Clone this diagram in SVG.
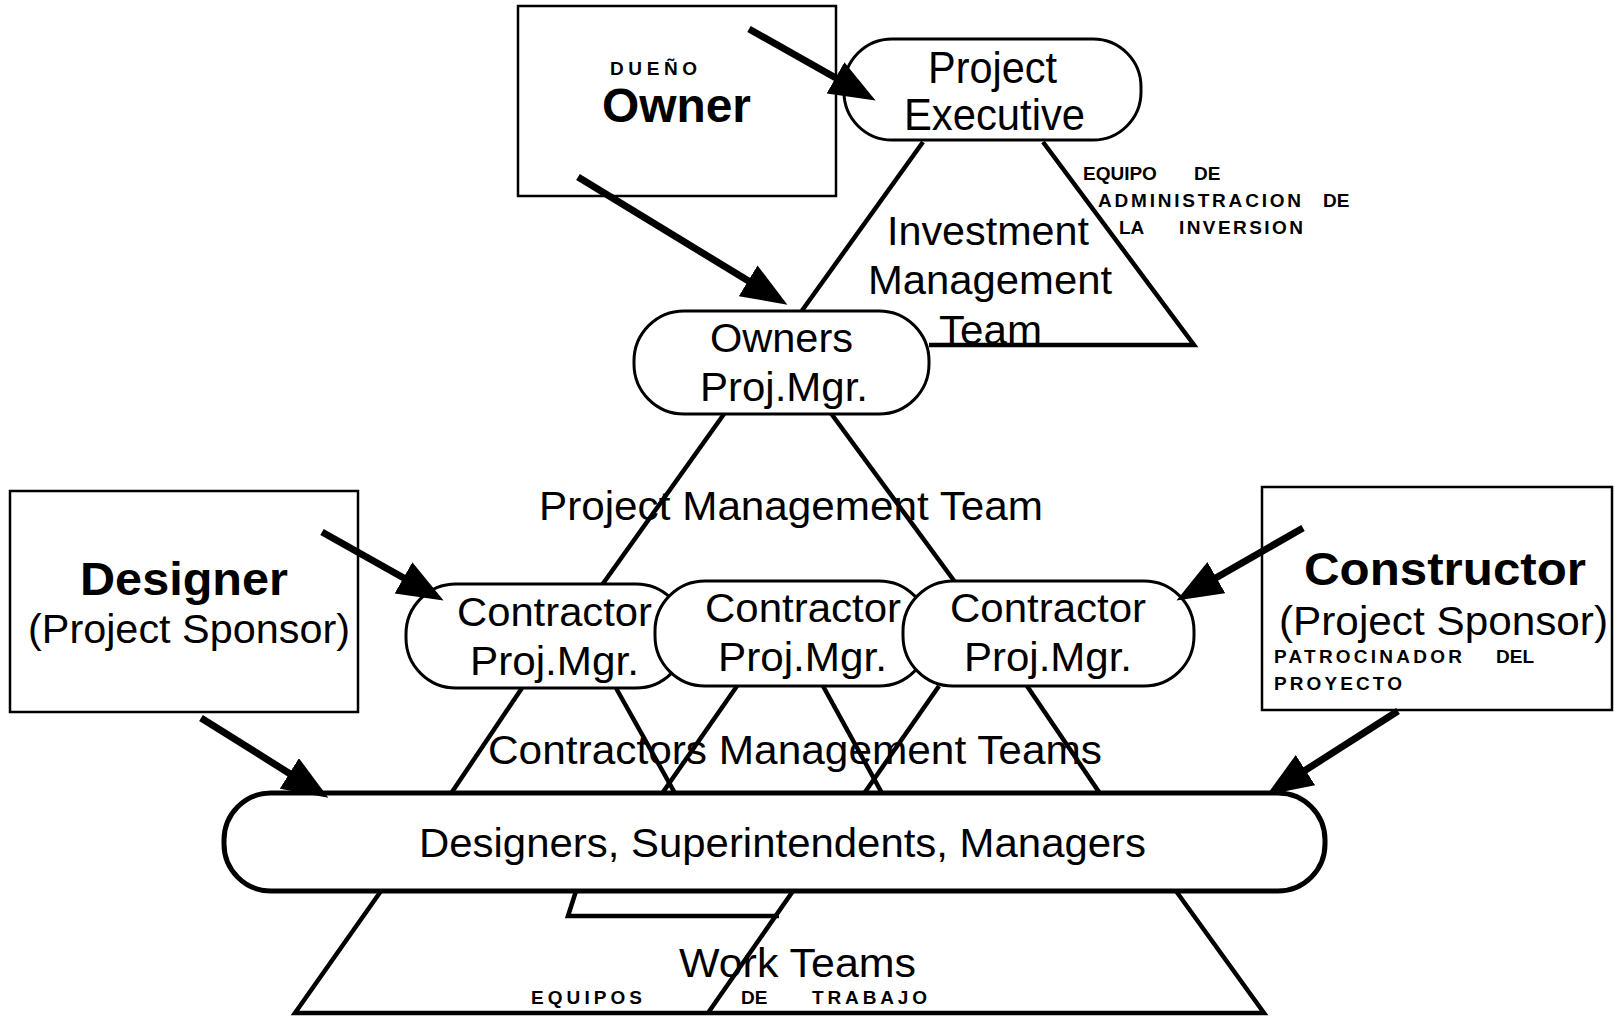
<svg xmlns="http://www.w3.org/2000/svg" width="1614" height="1016" viewBox="0 0 1614 1016">
<style>
text{font-family:"Liberation Sans",Arial,sans-serif;fill:#000}
.t40{font-size:40px}
.t44{font-size:44px}
.b{font-weight:bold}
.sm{font-size:19px;font-weight:bold}
.box{fill:#fff;stroke:#000;stroke-width:2.5}
.pill{fill:#fff;stroke:#000;stroke-width:3}
.big{fill:#fff;stroke:#000;stroke-width:5}
.tri{fill:none;stroke:#000;stroke-width:4.5;stroke-linejoin:miter}
.arr{stroke:#000;stroke-width:7;marker-end:url(#ah)}
</style>
<defs>
<marker id="ah" markerUnits="userSpaceOnUse" markerWidth="50" markerHeight="40" refX="35" refY="18" orient="auto">
<path d="M0,0 L46,18 L0,36 Z" fill="#000"/>
</marker>
</defs>
<rect width="1614" height="1016" fill="#fff"/>

<g id="connectors">
<polyline class="tri" points="923,142 801,312"/>
<polyline class="tri" points="1043,142 1194,345 929,345"/>
<polyline class="tri" points="724,414 602,585"/>
<polyline class="tri" points="830,412 955,582"/>
<polyline class="tri" points="522,688 450,795"/>
<polyline class="tri" points="616,688 676,795"/>
<polyline class="tri" points="737,686 661,795"/>
<polyline class="tri" points="823,686 883,795"/>
<polyline class="tri" points="939,686 863,795"/>
<polyline class="tri" points="1027,686 1101,795"/>
<polyline class="tri" points="381,891 295,1013 1264,1013 1176,891"/>
<polyline class="tri" points="793,891 708,1013"/>
<polyline class="tri" points="576,891 568,916 779,916"/>
</g>

<g id="owner">
<rect class="box" x="518" y="6" width="318" height="190"/>
<text class="sm" x="610" y="75" textLength="87" lengthAdjust="spacing">DUEÑO</text>
<text class="b" x="602" y="122" font-size="48" textLength="149" lengthAdjust="spacingAndGlyphs">Owner</text>
</g>

<g id="project-executive">
<rect class="pill" x="844" y="39" width="297" height="101" rx="48"/>
<text class="t44" x="928" y="83" textLength="129" lengthAdjust="spacingAndGlyphs">Project</text>
<text class="t44" x="904" y="130" textLength="181" lengthAdjust="spacingAndGlyphs">Executive</text>
</g>

<g id="investment-team">
<text class="t40" x="887" y="245" textLength="202" lengthAdjust="spacingAndGlyphs">Investment</text>
<text class="t40" x="868" y="294" textLength="244" lengthAdjust="spacingAndGlyphs">Management</text>
<text class="t40" x="939" y="344" textLength="103" lengthAdjust="spacingAndGlyphs">Team</text>
<text class="sm"><tspan x="1083" y="180">EQUIPO</tspan><tspan x="1194" y="180">DE</tspan></text>
<text class="sm"><tspan x="1098" y="207" textLength="203" lengthAdjust="spacing">ADMINISTRACION</tspan><tspan x="1323" y="207">DE</tspan></text>
<text class="sm"><tspan x="1119" y="234">LA</tspan><tspan x="1179" y="234" textLength="124" lengthAdjust="spacing">INVERSION</tspan></text>
</g>

<g id="owners-pm">
<rect class="pill" x="634" y="311" width="295" height="103" rx="50"/>
<text class="t40" x="710" y="352" textLength="143" lengthAdjust="spacingAndGlyphs">Owners</text>
<text class="t40" x="700" y="401" textLength="168" lengthAdjust="spacingAndGlyphs">Proj.Mgr.</text>
</g>

<g id="pm-team">
<text class="t40" x="539" y="520" textLength="504" lengthAdjust="spacingAndGlyphs">Project Management Team</text>
</g>

<g id="designer">
<rect class="box" x="10" y="491" width="348" height="221"/>
<text class="b" x="80" y="595" font-size="46" textLength="208" lengthAdjust="spacingAndGlyphs">Designer</text>
<text class="t40" x="28" y="643" textLength="322" lengthAdjust="spacingAndGlyphs">(Project Sponsor)</text>
</g>

<g id="constructor">
<rect class="box" x="1262" y="487" width="350" height="223"/>
<text class="b" x="1304" y="585" font-size="46" textLength="282" lengthAdjust="spacingAndGlyphs">Constructor</text>
<text class="t40" x="1279" y="635" textLength="329" lengthAdjust="spacingAndGlyphs">(Project Sponsor)</text>
<text class="sm"><tspan x="1274" y="663" textLength="188" lengthAdjust="spacing">PATROCINADOR</tspan><tspan x="1496" y="663">DEL</tspan></text>
<text class="sm" x="1274" y="690" textLength="128" lengthAdjust="spacing">PROYECTO</text>
</g>

<g id="contractor-pm-1">
<rect class="pill" x="406" y="584" width="280" height="104" rx="50"/>
<text class="t40" x="457" y="626" textLength="195" lengthAdjust="spacingAndGlyphs">Contractor</text>
<text class="t40" x="470" y="675" textLength="169" lengthAdjust="spacingAndGlyphs">Proj.Mgr.</text>
</g>
<g id="contractor-pm-2">
<rect class="pill" x="655" y="581" width="274" height="105" rx="50"/>
<text class="t40" x="705" y="622" textLength="196" lengthAdjust="spacingAndGlyphs">Contractor</text>
<text class="t40" x="718" y="671" textLength="169" lengthAdjust="spacingAndGlyphs">Proj.Mgr.</text>
</g>
<g id="contractor-pm-3">
<rect class="pill" x="903" y="581" width="291" height="105" rx="50"/>
<text class="t40" x="950" y="622" textLength="196" lengthAdjust="spacingAndGlyphs">Contractor</text>
<text class="t40" x="964" y="671" textLength="168" lengthAdjust="spacingAndGlyphs">Proj.Mgr.</text>
</g>

<g id="contractors-team">
<text class="t40" x="488" y="764" textLength="614" lengthAdjust="spacingAndGlyphs">Contractors Management Teams</text>
</g>

<g id="designers-superintendents">
<rect class="big" x="224" y="793" width="1101" height="98" rx="47"/>
<text class="t40" x="419" y="857" font-size="42" textLength="727" lengthAdjust="spacingAndGlyphs">Designers, Superintendents, Managers</text>
</g>

<g id="work-teams">
<text class="t40" x="679" y="977" font-size="42" textLength="237" lengthAdjust="spacingAndGlyphs">Work Teams</text>
<text class="sm"><tspan x="531" y="1004" textLength="111" lengthAdjust="spacing">EQUIPOS</tspan><tspan x="741" y="1004">DE</tspan><tspan x="812" y="1004" textLength="115" lengthAdjust="spacing">TRABAJO</tspan></text>
</g>

<g id="arrows">
<line class="arr" x1="749" y1="29" x2="866" y2="95"/>
<line class="arr" x1="578" y1="177" x2="778" y2="299"/>
<line class="arr" x1="322" y1="532" x2="434" y2="595"/>
<line class="arr" x1="201" y1="718" x2="319" y2="792"/>
<line class="arr" x1="1303" y1="528" x2="1186" y2="595"/>
<line class="arr" x1="1398" y1="711" x2="1276" y2="789"/>
</g>
</svg>
